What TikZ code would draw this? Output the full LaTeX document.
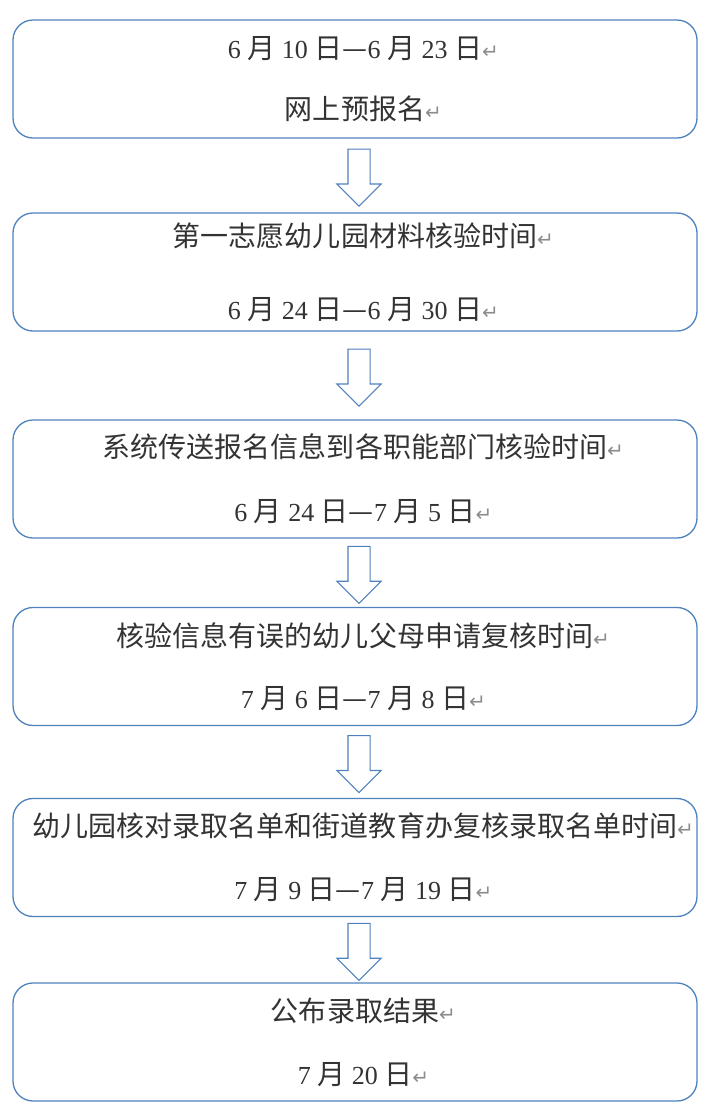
\documentclass[tikz,border=0pt]{standalone}
\usepackage{fontspec}
\setmainfont{Liberation Serif}
\newfontfamily\cjkfont[Scale=1.077]{Noto Sans CJK SC}
\newfontfamily\symfont{DejaVu Sans}
\usetikzlibrary{shapes.arrows,calc}

\definecolor{wordblue}{RGB}{79,129,189}
\newcommand\zh[1]{{\cjkfont #1}}
\newcommand\ret{\rlap{\symfont\fontsize{20}{20}\selectfont\color{black!45}↵}}

\tikzset{
  stage/.style={draw=wordblue, line width=1.3pt, rounded corners=20pt,
    minimum width=684pt, minimum height=118pt, inner sep=0pt,
    align=center, text=black!80, font=\fontsize{26}{30}\selectfont},
  downarrow/.style={single arrow, draw=wordblue, fill=white, line width=1.1pt,
    rotate=-90, minimum height=57pt, inner xsep=0pt, inner ysep=10.5pt,
    single arrow head extend=11pt, single arrow head indent=0pt}
}

\begin{document}
\begin{tikzpicture}[x=1pt,y=-1pt]
    \useasboundingbox (0,0) rectangle (713,1120);

    % Stages
    \node[stage] (box1) at (355,79)
        {6 \zh{月} 10 \zh{日—}6 \zh{月} 23 \zh{日}\ret\\[30.5pt]\zh{网上预报名}\ret};
    \node[stage] (box2) at (355,272)
        {\zh{第一志愿幼儿园材料核验时间}\ret\\[43pt]6 \zh{月} 24 \zh{日—}6 \zh{月} 30 \zh{日}\ret};
    \node[stage] (box3) at (355,479)
        {\zh{系统传送报名信息到各职能部门核验时间}\ret\\[34pt]6 \zh{月} 24 \zh{日—}7 \zh{月} 5 \zh{日}\ret};
    \node[stage] (box4) at (355,666.5)
        {\zh{核验信息有误的幼儿父母申请复核时间}\ret\\[32pt]7 \zh{月} 6 \zh{日—}7 \zh{月} 8 \zh{日}\ret};
    \node[stage] (box5) at (355,857.5)
        {\zh{幼儿园核对录取名单和街道教育办复核录取名单时间}\ret\\[32.5pt]7 \zh{月} 9 \zh{日—}7 \zh{月} 19 \zh{日}\ret};
    \node[stage] (box6) at (355,1042)
        {\zh{公布录取结果}\ret\\[33pt]7 \zh{月} 20 \zh{日}\ret};

    % Block arrows between the stages
    \foreach \a/\b in {1/2, 2/3, 3/4, 4/5, 5/6}
        \node[downarrow, anchor=tail] (arrow\a) at ($(box\a.south)!0.5!(box\b.north)+(4,-27)$) {};
\end{tikzpicture}
\end{document}
